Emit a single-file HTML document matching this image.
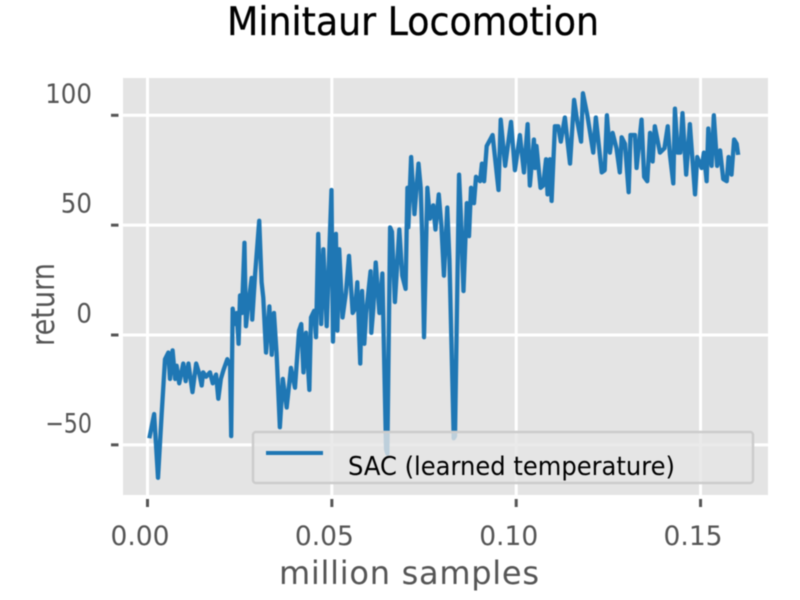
<!DOCTYPE html>
<html lang="en">
<head>
<meta charset="utf-8">
<title>Minitaur Locomotion</title>
<style>
html,body{margin:0;padding:0;background:#fff;}
#chart{display:block;width:800px;height:600px;font-family:"DejaVu Sans","Liberation Sans",sans-serif;filter:blur(0.5px);}
</style>
</head>
<body>
<svg id="chart" xmlns="http://www.w3.org/2000/svg" width="800" height="600" viewBox="0 0 800 600">
  <defs><clipPath id="plot-clip"><rect x="123" y="78" width="645" height="417"></rect></clipPath></defs>
  <rect x="0" y="0" width="800" height="600" fill="#ffffff"></rect>
  <text x="227" y="35" font-size="39" fill="#000000" stroke="#000000" stroke-width="0.3" textLength="372" lengthAdjust="spacingAndGlyphs">Minitaur Locomotion</text>
  <rect x="123" y="78" width="645" height="417" fill="#e4e4e4"></rect>
  <g id="grid"></g>
  <g id="ticks"></g>
  <g id="labels"></g>
  <path id="series" clip-path="url(#plot-clip)" fill="none" stroke="#1f77b4" stroke-width="4.3" stroke-linejoin="round" stroke-linecap="butt"></path>
  <g>
    <rect x="253" y="432" width="500" height="51" rx="3" ry="3" fill="#e5e5e5" fill-opacity="0.8" stroke="#cccccc" stroke-width="2.5"></rect>
    <line x1="266" y1="453" x2="323" y2="453" stroke="#1f77b4" stroke-width="4"></line>
    <text x="348" y="475" font-size="26" fill="#000000" textLength="327" lengthAdjust="spacingAndGlyphs">SAC (learned temperature)</text>
  </g>
  <text x="279" y="584" font-size="32" fill="#555555" textLength="260" lengthAdjust="spacing">million samples</text>
  <text transform="translate(54,346) rotate(-90)" x="0" y="0" font-size="32" fill="#555555" textLength="83" lengthAdjust="spacingAndGlyphs">return</text>
</svg>
<script>
// Sample positions, in thousands of environment samples
const sampleThousands = [0.5,1.8,2.85,3.84,4.75,5.65,6.1,6.8,7.5,7.9,8.6,9.7,10.35,11.1,12.2,13.2,14.1,14.7,15.1,15.9,16.95,17.7,18.6,19.2,19.9,20.6,21.65,22.4,22.7,23.1,23.7,24.2,24.7,25.1,25.6,26.3,26.7,27.35,28.25,28.4,29.2,30.3,30.95,31.4,32.15,33.05,33.7,34.3,35,35.9,36.7,37.75,38.9,40,41.1,41.7,42.3,43,43.9,44.35,45.2,45.7,46.3,47.1,47.7,48.6,49.9,50.3,51.1,51.5,52,52.9,53.8,54.65,55.65,56.3,56.9,57.7,58.2,58.8,59.3,60.5,60.7,61.25,61.9,62.9,63.7,64.7,65.05,65.8,66.3,67.1,68.3,69.1,70,70.5,70.75,71.5,72.4,73.5,74.1,74.5,75,75.9,76.6,77.5,78.1,79,79.7,80.4,81.3,81.9,83.05,83.4,84.5,85,85.7,86.6,87.2,87.75,88.55,89.1,90.2,90.7,91.3,92,93.6,95.2,95.8,97,98.6,99.65,101,102.1,103.1,103.7,104.8,105.1,105.5,106.6,107.3,108.1,108.5,109.15,109.6,110.5,111.4,112.1,113.2,114.6,115.7,116.6,117.6,118.1,119.3,120.9,121.6,123.2,124,124.6,125.4,126.15,127.2,128.1,128.6,129.5,130.5,131,132.2,132.65,134,134.7,135.55,136.3,137,137.6,139,140.2,141.1,141.7,142.6,143.05,143.8,144.5,145.1,146.1,147.1,148.5,149.1,150.3,150.9,151.65,152.1,153,153.6,154.5,155.3,156.15,157.1,157.6,158.4,159.1,159.8,160.2];
// SAC return at each sample
const sacReturn = [-47,-36,-65,-36,-11,-8,-20,-7,-20,-14,-22,-13,-21,-13,-26,-13,-18,-23,-17,-19,-17,-22,-18,-29,-20,-16,-11,-14,-46,12,5,10,-4,18,10,42,4,14,26,7,28,52,24,17,-8,13,-9,10,-8,-42,-20,-33,-15,-24,2,5,-17,1,-25,8,11,-1,46,5,39,4,66,-3,46,2,39,8,19,36,10,12,24,-13,20,-4,10,29,1,12,33,10,28,-52,-54,49,47,15,48,27,21,67,49,81,55,78,67,45,-1,67,53,59,48,64,50,27,58,34,-47,-46,73,54,20,60,45,67,60,72,70,78,70,86,91,66,98,77,97,75,91,74,96,68,89,76,86,67,68,80,64,80,61,95,95,88,99,78,107,97,88,110,100,83,99,74,75,100,83,92,85,74,90,87,65,91,91,76,98,72,70,92,79,95,83,85,95,82,69,103,83,83,101,73,96,64,81,76,83,70,94,77,100,77,84,71,70,81,73,89,87,82];
// Axis tick values and their printed labels
const xTickValues = [0, 0.05, 0.10, 0.15];
const xTickLabels = ["0.00", "0.05", "0.10", "0.15"];
const yTickValues = [100, 50, 0, -50];
const yTickLabels = ["100", "50", "0", "\u221250"];

const svgNS = "http://www.w3.org/2000/svg";
function xScale(millions) { return 147.5 + millions * 3687; }
function yScale(value) { return 335 - value * 2.197; }
function make(tag, attrs, parent) {
  const el = document.createElementNS(svgNS, tag);
  for (const k in attrs) el.setAttribute(k, attrs[k]);
  parent.appendChild(el);
  return el;
}
const grid = document.getElementById("grid");
const ticks = document.getElementById("ticks");
const labels = document.getElementById("labels");

xTickValues.forEach(function (v, i) {
  const x = xScale(v);
  const g = make("line", {x1: x, x2: x, y1: 78, y2: 495, stroke: "#ffffff", "stroke-width": 3}, grid);
  
  
  const t = make("line", {x1: x, x2: x, y1: 499, y2: 507, stroke: "#555555", "stroke-width": 3}, ticks);
  
  
  const l = make("text", {x: x - 37, y: 545, "font-size": 27, fill: "#555555", textLength: 59, lengthAdjust: "spacingAndGlyphs"}, labels);
  
  
  l.textContent = xTickLabels[i];
});
yTickValues.forEach(function (v, i) {
  const y = yScale(v);
  const g = make("line", {x1: 123, x2: 768, y1: y, y2: y, stroke: "#ffffff", "stroke-width": 3}, grid);
  
  
  const t = make("line", {x1: 111, x2: 118.5, y1: y, y2: y, stroke: "#555555", "stroke-width": 3}, ticks);
  
  
  const width = yTickLabels[i].length * 15.6;
  const l = make("text", {x: 92 - width, y: y - 12.5, "font-size": 27, fill: "#555555", textLength: width, lengthAdjust: "spacingAndGlyphs"}, labels);
  
  
  l.textContent = yTickLabels[i];
});
let d = "";
const pointCount = Math.min(sampleThousands.length, sacReturn.length);
for (let i = 0; i < pointCount; i++) {
  d += (i ? "L" : "M") + xScale(sampleThousands[i] / 1000).toFixed(2) + " " + yScale(sacReturn[i]).toFixed(2);
}
document.getElementById("series").setAttribute("d", d);
</script>
</body>
</html>
